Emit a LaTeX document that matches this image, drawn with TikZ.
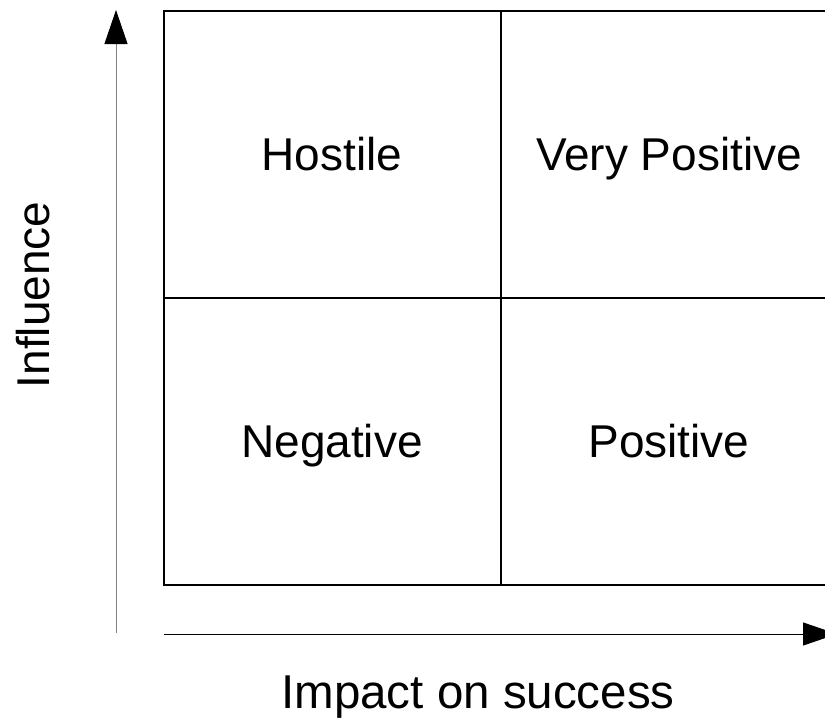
\documentclass[tikz,border=0pt]{standalone}
\usepackage{fontspec}
\setmainfont{Liberation Sans}
\usetikzlibrary{positioning, arrows.meta}

\begin{document}
\begin{tikzpicture}[
    x=1pt, y=-1pt,
    cell/.style={
        rectangle,
        draw=black,
        line width=2pt,
        outer sep=0pt,
        minimum width=337pt,
        minimum height=287pt,
        text height=33pt,
        text depth=0pt,
        font=\fontsize{46}{52}\selectfont
    },
    axis/.style={-{Triangle[length=34pt, width=23pt, color=black]}, line width=1pt},
    axislabel/.style={anchor=base, font=\fontsize{47.5}{54}\selectfont}
]

% Page frame, right column runs past the edge
\useasboundingbox (0,0) rectangle (825,720);
\clip (0,0) rectangle (825,720);

%% GRID %%
\node (hostile) [cell] at (332,154) {Hostile};
\node (verypositive) [cell, right=0pt of hostile] {Very Positive};
\node (negative) [cell, below=0pt of hostile] {Negative};
\node (positive) [cell, right=0pt of negative] {Positive};

%% AXES %%
\coordinate (ybottom) at (116,633);
\coordinate (ytop) at (116,10);
\coordinate (xleft) at (164,634);
\coordinate (xright) at (837,634);

\draw [axis, draw=gray] (ybottom) -- (ytop);
\draw [axis] (xleft) -- (xright);

%% AXIS LABELS %%
\node (influence) [axislabel, font=\fontsize{46}{52}\selectfont, rotate=90] at (49,295) {Influence};
\node (impact) [axislabel] at (478,708) {Impact on success};

\end{tikzpicture}
\end{document}
